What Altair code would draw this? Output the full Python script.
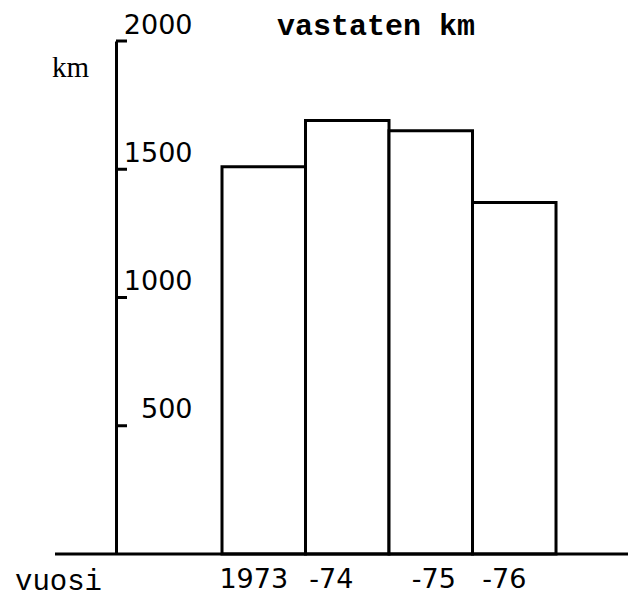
import altair as alt
import pandas as pd

# ---- data ----
years = ["1973", "-74", "-75", "-76"]
km_values = [1510, 1690, 1650, 1370]
y_ticks = [500, 1000, 1500, 2000]
title_text = "vastaten km"
y_unit = "km"
x_name = "vuosi"
label_dx = [-10, -16, 3, -10]   # typed label offsets under the bars

W, H = 516, 513

bars_df = pd.DataFrame({"year": years, "km": km_values, "start": list(range(len(years)))})
bars_df["end"] = bars_df["start"] + 1
bars_df["mid"] = bars_df["start"] + 0.5
ticks_df = pd.DataFrame({"v": y_ticks})

xscale = alt.Scale(domain=[-1.2695, 4.910], nice=False, zero=False)
yscale = alt.Scale(domain=[0, 2000], nice=False)

yaxis = alt.Axis(
    values=y_ticks, title=None, grid=False, ticks=False, tickSize=0, format="d",
    labelPadding=-76, labelAlign="right", labelBaseline="alphabetic",
    labelOffset=-8, labelFlush=False, labelOverlap=False,
    labelFont="DejaVu Sans", labelFontSize=27, labelColor="black",
    domainColor="black", domainWidth=3,
)

bars = alt.Chart(bars_df).mark_bar(fill="white", stroke="black", strokeWidth=3).encode(
    x=alt.X("start:Q", scale=xscale, axis=None),
    x2="end:Q",
    y=alt.Y("km:Q", scale=yscale, axis=yaxis),
    y2=alt.datum(0),
)

tick_rules = alt.Chart(ticks_df).mark_rule(color="black", strokeWidth=3).encode(
    y=alt.Y("v:Q", scale=yscale, axis=yaxis),
    x=alt.value(0),
    x2=alt.value(11),
)

baseline = alt.Chart(pd.DataFrame({"z": [0]})).mark_rule(color="black", strokeWidth=3).encode(
    y=alt.Y("z:Q", scale=yscale, axis=yaxis),
    x=alt.value(-61),
    x2=alt.value(512),
)

year_labels = []
for i, d in enumerate(label_dx):
    year_labels.append(
        alt.Chart(bars_df.iloc[[i]]).mark_text(
            dx=d, align="center", baseline="alphabetic",
            font="DejaVu Sans", fontSize=27, color="black",
        ).encode(
            x=alt.X("mid:Q", scale=xscale, axis=None),
            y=alt.value(H + 34),
            text="year:N",
        )
    )

title = alt.Chart(pd.DataFrame({"t": [title_text]})).mark_text(
    align="left", baseline="alphabetic", font="Liberation Mono",
    fontWeight="bold", fontSize=30, color="black",
).encode(x=alt.value(161), y=alt.value(-6), text="t:N")

unit = alt.Chart(pd.DataFrame({"t": [y_unit]})).mark_text(
    align="left", baseline="alphabetic", font="Liberation Serif",
    fontSize=29, color="black",
).encode(x=alt.value(-64), y=alt.value(36), text="t:N")

xname = alt.Chart(pd.DataFrame({"t": [x_name]})).mark_text(
    align="left", baseline="alphabetic", font="Liberation Mono",
    fontSize=29, color="black",
).encode(x=alt.value(-101), y=alt.value(H + 36), text="t:N")

chart = alt.layer(bars, tick_rules, baseline, *year_labels, title, unit, xname).properties(
    width=W, height=H,
    background="white",
    autosize=alt.AutoSizeParams(type="none"),
    padding={"left": 108, "top": 33, "right": 0, "bottom": 45},
).configure_view(stroke=None)

chart.save("out.html", embed_options={"renderer": "svg", "actions": False})
